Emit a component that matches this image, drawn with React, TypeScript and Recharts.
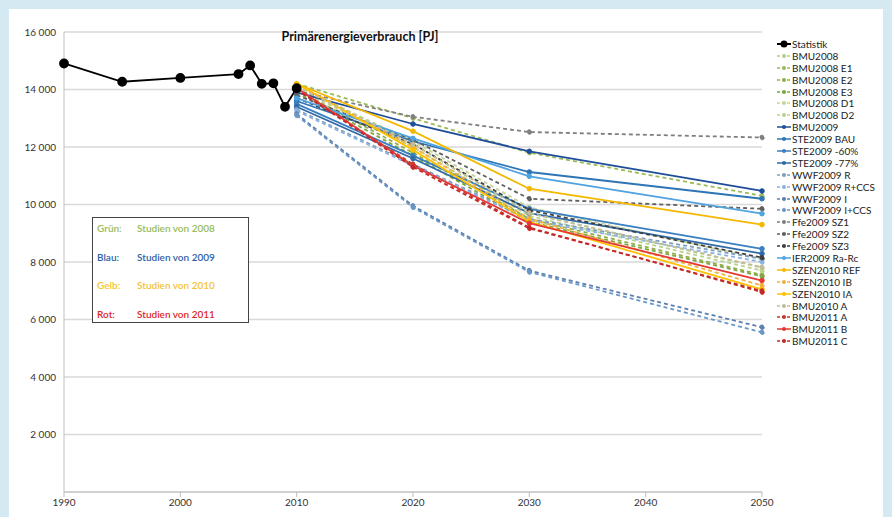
import React from 'react';
import { LineChart, Line, XAxis, YAxis, CartesianGrid, Legend } from 'recharts';

// Statistik (Ist-Werte)
const statYears = [1990, 1995, 2000, 2005, 2006, 2007, 2008, 2009, 2010];
const statValues = [14905, 14269, 14401, 14537, 14837, 14197, 14216, 13398, 14044];

// Szenarien: Stützjahre
const scenarioYears = [2010, 2020, 2030, 2050];

const bmu2008 = [14150, 12100, 9700, 7800];
const bmu2008E1 = [14200, 13000, 11800, 10300];
const bmu2008E2 = [14000, 11800, 9500, 7550];
const bmu2008E3 = [13900, 11700, 9400, 7500];
const bmu2008D1 = [14100, 12200, 9900, 8100];
const bmu2008D2 = [14050, 12000, 9600, 7700];
const bmu2009 = [13900, 12800, 11850, 10470];
const ste2009Bau = [13600, 12200, 11130, 10200];
const ste2009m60 = [13500, 11700, 9850, 8460];
const ste2009m77 = [13400, 11600, 9700, 8290];
const wwf2009R = [13300, 11400, 9500, 8110];
const wwf2009RCcs = [13250, 11350, 9450, 8000];
const wwf2009I = [13150, 9950, 7700, 5730];
const wwf2009ICcs = [13100, 9900, 7650, 5555];
const ffe2009Sz1 = [13950, 13050, 12520, 12330];
const ffe2009Sz2 = [13800, 12250, 10200, 9850];
const ffe2009Sz3 = [13700, 12100, 9800, 8150];
const ier2009 = [13700, 12300, 10980, 9680];
const szen2010Ref = [14200, 12550, 10550, 9300];
const szen2010Ib = [14200, 12000, 9500, 7180];
const szen2010Ia = [14200, 11900, 9400, 7050];
const bmu2010A = [14100, 12100, 9700, 7820];
const bmu2011A = [14000, 11400, 9200, 6950];
const bmu2011B = [14050, 11350, 9350, 7355];
const bmu2011C = [14000, 11300, 9170, 6990];

const xTicks = [1990, 2000, 2010, 2020, 2030, 2040, 2050];
const yTicks = [2000, 4000, 6000, 8000, 10000, 12000, 14000, 16000];

const series = [
  { name: 'BMU2008', values: bmu2008, color: '#b3cf88', dashed: true },
  { name: 'BMU2008 E1', values: bmu2008E1, color: '#9bbb59', dashed: true },
  { name: 'BMU2008 E2', values: bmu2008E2, color: '#8fb04a', dashed: true },
  { name: 'BMU2008 E3', values: bmu2008E3, color: '#7fa640', dashed: true },
  { name: 'BMU2008 D1', values: bmu2008D1, color: '#c3d69b', dashed: true },
  { name: 'BMU2008 D2', values: bmu2008D2, color: '#b9d28e', dashed: true },
  { name: 'BMU2009', values: bmu2009, color: '#1f4e99', dashed: false },
  { name: 'STE2009 BAU', values: ste2009Bau, color: '#2e75b6', dashed: false },
  { name: 'STE2009 -60%', values: ste2009m60, color: '#3a7fc1', dashed: false },
  { name: 'STE2009 -77%', values: ste2009m77, color: '#2f6aa8', dashed: false },
  { name: 'WWF2009 R', values: wwf2009R, color: '#7f9fbf', dashed: true },
  { name: 'WWF2009 R+CCS', values: wwf2009RCcs, color: '#8db3e2', dashed: true },
  { name: 'WWF2009 I', values: wwf2009I, color: '#5b7fb0', dashed: true },
  { name: 'WWF2009 I+CCS', values: wwf2009ICcs, color: '#6a96c8', dashed: true },
  { name: 'Ffe2009 SZ1', values: ffe2009Sz1, color: '#7f7f7f', dashed: true },
  { name: 'Ffe2009 SZ2', values: ffe2009Sz2, color: '#606060', dashed: true },
  { name: 'Ffe2009 SZ3', values: ffe2009Sz3, color: '#404040', dashed: true },
  { name: 'IER2009 Ra-Rc', values: ier2009, color: '#4fa3e0', dashed: false },
  { name: 'SZEN2010 REF', values: szen2010Ref, color: '#f5b800', dashed: false },
  { name: 'SZEN2010 IB', values: szen2010Ib, color: '#f0b040', dashed: true },
  { name: 'SZEN2010 IA', values: szen2010Ia, color: '#ffc000', dashed: false },
  { name: 'BMU2010 A', values: bmu2010A, color: '#c4bd97', dashed: true },
  { name: 'BMU2011 A', values: bmu2011A, color: '#c0392b', dashed: true },
  { name: 'BMU2011 B', values: bmu2011B, color: '#e53935', dashed: false },
  { name: 'BMU2011 C', values: bmu2011C, color: '#c62828', dashed: true },
];

const statData = statYears.map((year, i) => ({ year, value: statValues[i] }));

const font = 'Lato, "Open Sans", sans-serif';

const formatThousands = (v: number) => {
  const s = String(v);
  return s.length > 3 ? s.slice(0, s.length - 3) + ' ' + s.slice(-3) : s;
};

const renderLegend = () => {
  const entries = [{ name: 'Statistik', color: '#000', dashed: false, big: true }, ...series.map((s) => ({ ...s, big: false }))];
  return (
    <div style={{ fontFamily: font, fontSize: 10, color: '#222' }}>
      {entries.map((e) => (
        <div key={e.name} style={{ display: 'flex', alignItems: 'center', height: 11.9 }}>
          <svg width={14} height={10} style={{ marginRight: 1 }}>
            <line x1={0} y1={5} x2={14} y2={5} stroke={e.color} strokeWidth={e.big ? 2 : 1.5} strokeDasharray={e.dashed ? '3 2' : undefined} />
            <circle cx={7} cy={5} r={e.big ? 3.5 : 2} fill={e.color} />
          </svg>
          <span style={{ whiteSpace: 'nowrap' }}>{e.name}</span>
        </div>
      ))}
    </div>
  );
};

const boxRows = [
  { label: 'Grün:', text: 'Studien von 2008', color: '#9bbb59' },
  { label: 'Blau:', text: 'Studien von 2009', color: '#2e62a8' },
  { label: 'Gelb:', text: 'Studien von 2010', color: '#f5c232' },
  { label: 'Rot:', text: 'Studien von 2011', color: '#e02828' },
];

export default function App() {
  return (
    <div style={{ position: 'fixed', left: 0, top: 0, width: 892, height: 517, background: '#d5e9f2', overflow: 'hidden' }}>
      <div style={{ position: 'absolute', left: 9, top: 9, width: 874, height: 520, background: '#fff' }} />
      <div style={{ position: 'absolute', left: 0, top: 0 }}>
        <LineChart width={892} height={517} margin={{ top: 32, right: 130, left: 0, bottom: 5 }}>
          <CartesianGrid vertical={false} stroke="#d9d9d9" strokeWidth={1.5} />
          <XAxis
            type="number"
            dataKey="year"
            domain={[1990, 2050]}
            ticks={xTicks}
            height={20}
            stroke="#bfbfbf"
            tickSize={5}
            tick={{ fontSize: 10, fill: '#333', fontFamily: font }}
          />
          <YAxis
            type="number"
            domain={[0, 16000]}
            ticks={yTicks}
            width={64}
            stroke="#bfbfbf"
            tickLine={false}
            tickFormatter={formatThousands}
            tick={{ fontSize: 10, fill: '#333', fontFamily: font }}
          />
          <Legend
            layout="vertical"
            align="center"
            verticalAlign="middle"
            content={renderLegend}
            wrapperStyle={{ left: 777, top: 38, width: 110 }}
          />
          {series.map((s) => (
            <Line
              key={s.name}
              data={scenarioYears.map((year, i) => ({ year, value: s.values[i] }))}
              dataKey="value"
              name={s.name}
              stroke={s.color}
              strokeWidth={1.8}
              strokeDasharray={s.dashed ? '4 3' : undefined}
              dot={{ r: 2.3, fill: s.color, stroke: s.color, strokeWidth: 1 }}
              isAnimationActive={false}
            />
          ))}
          <Line
            data={statData}
            dataKey="value"
            name="Statistik"
            stroke="#000"
            strokeWidth={1.8}
            dot={{ r: 4, fill: '#000', stroke: '#000' }}
            isAnimationActive={false}
          />
        </LineChart>
      </div>
      <div
        style={{
          position: 'absolute',
          left: 250,
          top: 29,
          width: 220,
          textAlign: 'center',
          fontFamily: font,
          fontSize: 12.5,
          fontWeight: 'bold',
          color: '#111',
        }}
      >
        Primärenergieverbrauch [PJ]
      </div>
      <div
        style={{
          position: 'absolute',
          left: 92,
          top: 217,
          width: 155,
          height: 104,
          border: '1.5px solid #444',
          background: '#fff',
          fontFamily: font,
          fontSize: 10,
          fontWeight: 600,
        }}
      >
        {boxRows.map((r, i) => (
          <div key={r.label} style={{ position: 'absolute', left: 4, top: 4 + i * 28.7, color: r.color, whiteSpace: 'nowrap' }}>
            <span style={{ display: 'inline-block', width: 40 }}>{r.label}</span>
            <span>{r.text}</span>
          </div>
        ))}
      </div>
    </div>
  );
}
